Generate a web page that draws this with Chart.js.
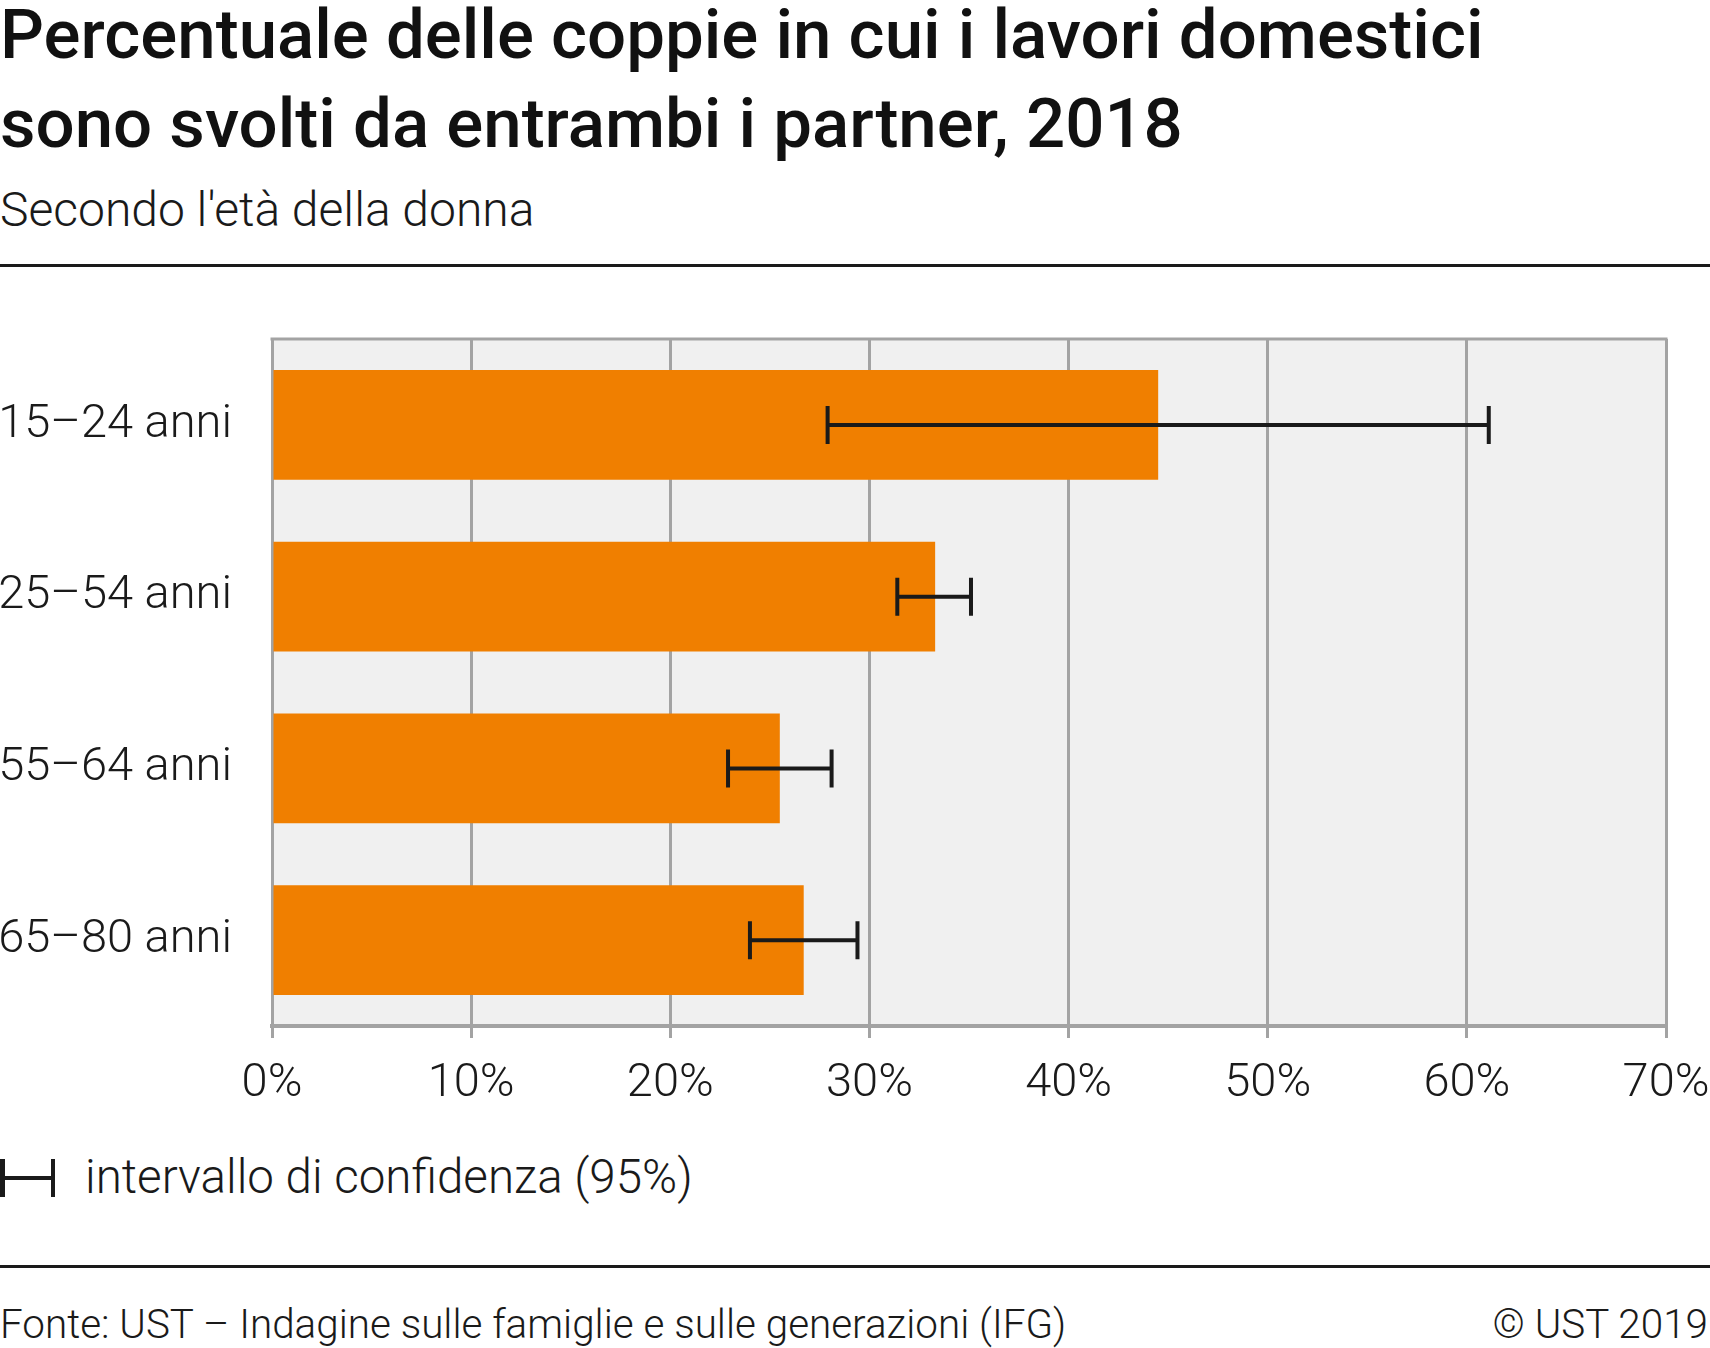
<!DOCTYPE html>
<html>
<head>
<meta charset="utf-8">
<script src="https://cdn.jsdelivr.net/npm/chart.js@4.4.1/dist/chart.umd.min.js"></script>
<style>
  html, body { margin: 0; padding: 0; background: #fff; }
  body { width: 1710px; height: 1348px; position: relative; overflow: hidden; font-family: Roboto, "Noto Sans", sans-serif; color: #1a1a1a; }
  .abs { position: absolute; white-space: nowrap; }
  #title { left: 0; top: -10px; font-size: 69px; font-weight: 500; line-height: 89px; color: #111; }
  #subtitle { left: 0; top: 186px; font-size: 48px; font-weight: 300; line-height: 48px; }
  .rule { position: absolute; left: 0; width: 1710px; height: 3px; background: #1a1a1a; }
  #chartBox { position: absolute; left: 0; top: 300px; width: 1710px; height: 820px; }
  #legendText { left: 85px; top: 1154px; font-size: 47.5px; font-weight: 300; line-height: 47.5px; }
  .lg { position: absolute; background: #1a1a1a; }
  #source { left: 0; top: 1305px; font-size: 40.4px; font-weight: 300; line-height: 40.4px; }
  #copy { right: 2px; top: 1305px; font-size: 40.4px; font-weight: 300; line-height: 40.4px; }
</style>
</head>
<body>
<div id="title" class="abs">Percentuale delle coppie in cui i lavori domestici<br>sono svolti da entrambi i partner, 2018</div>
<div id="subtitle" class="abs">Secondo l'età della donna</div>
<div class="rule" style="top:264px"></div>

<div id="chartBox"><canvas id="hhChart"></canvas></div>

<div class="lg" style="left:0;top:1159px;width:4.5px;height:38px"></div>
<div class="lg" style="left:0;top:1176px;width:55px;height:4px"></div>
<div class="lg" style="left:50.5px;top:1159px;width:4.5px;height:38px"></div>
<div id="legendText" class="abs">intervallo di confidenza (95%)</div>

<div class="rule" style="top:1265px"></div>
<div id="source" class="abs">Fonte: UST – Indagine sulle famiglie e sulle generazioni (IFG)</div>
<div id="copy" class="abs">© UST 2019</div>

<script>
// Age groups of the woman
const categories = ['15–24 anni', '25–54 anni', '55–64 anni', '65–80 anni'];
// Share of couples where both partners do housework (%)
const shares = [44.5, 33.3, 25.5, 26.7];
// 95% confidence interval bounds
const ciLow = [27.9, 31.4, 22.9, 24.0];
const ciHigh = [61.1, 35.1, 28.1, 29.4];
// x axis ticks
const xTicks = [0, 10, 20, 30, 40, 50, 60, 70];

const gridGrey = '#a3a3a3';

// Grey plot background, top border and the confidence interval whiskers
const plotDecor = {
    id: 'plotDecor',
    beforeDraw(chart) {
        const { ctx, chartArea: a } = chart;
        ctx.save();
        ctx.fillStyle = '#f0f0f0';
        ctx.fillRect(a.left, a.top, a.right - a.left, a.bottom - a.top);
        ctx.restore();
    },
    afterDatasetsDraw(chart) {
        const { ctx, chartArea: a } = chart;
        const x = chart.scales.x;
        const meta = chart.getDatasetMeta(0);
        ctx.save();
        // top border of the plot
        ctx.strokeStyle = gridGrey;
        ctx.lineWidth = 3;
        ctx.beginPath();
        ctx.moveTo(a.left - 1.5, a.top);
        ctx.lineTo(a.right + 1.5, a.top);
        ctx.stroke();

        ctx.strokeStyle = '#1a1a1a';
        ctx.lineWidth = 4;
        meta.data.forEach((bar, i) => {
            const y = bar.y;
            const x1 = x.getPixelForValue(ciLow[i]);
            const x2 = x.getPixelForValue(ciHigh[i]);
            ctx.beginPath();
            ctx.moveTo(x1, y);
            ctx.lineTo(x2, y);
            ctx.moveTo(x1, y - 19);
            ctx.lineTo(x1, y + 19);
            ctx.moveTo(x2, y - 19);
            ctx.lineTo(x2, y + 19);
            ctx.stroke();
        });
        ctx.restore();
    }
};

// scales should not push the plot area in; layout padding does that
function noScalePadding(scale) {
    scale.paddingTop = 0;
    scale.paddingBottom = 0;
    scale.paddingLeft = 0;
    scale.paddingRight = 0;
}

const ctx = document.getElementById('hhChart').getContext('2d');

let chart = new Chart(ctx, {
    type: 'bar',
    data: {
        labels: categories,
        datasets: [{
            label: 'Coppie',
            data: shares,
            backgroundColor: '#f07f00',
            borderWidth: 0,
            categoryPercentage: 1,
            barPercentage: 0.64
        }]
    },
    options: {
        indexAxis: 'y',
        responsive: true,
        maintainAspectRatio: false,
        animation: false,
        layout: { padding: { top: 39, right: 44, left: 0, bottom: 0 } },
        plugins: {
            legend: { display: false },
            tooltip: { enabled: false }
        },
        scales: {
            x: {
                min: 0,
                max: 70,
                afterBuildTicks(scale) {
                    scale.ticks = xTicks.map(v => ({ value: v }));
                },
                afterFit(scale) {
                    scale.height = 94;
                    noScalePadding(scale);
                },
                grid: {
                    color: gridGrey,
                    lineWidth: 3,
                    tickLength: 12,
                    drawTicks: true
                },
                border: { display: true, color: gridGrey, width: 4 },
                ticks: {
                    padding: 18,
                    color: '#1a1a1a',
                    font: { family: 'Roboto', size: 47, weight: 300 },
                    callback: v => v + '%',
                    maxRotation: 0
                }
            },
            y: {
                afterFit(scale) {
                    scale.width = 272;
                    noScalePadding(scale);
                },
                grid: { display: false, drawTicks: false },
                border: { display: false },
                ticks: {
                    padding: 40,
                    color: '#1a1a1a',
                    font: { family: 'Roboto', size: 47, weight: 300 }
                }
            }
        }
    },
    plugins: [plotDecor]
});
</script>
</body>
</html>
